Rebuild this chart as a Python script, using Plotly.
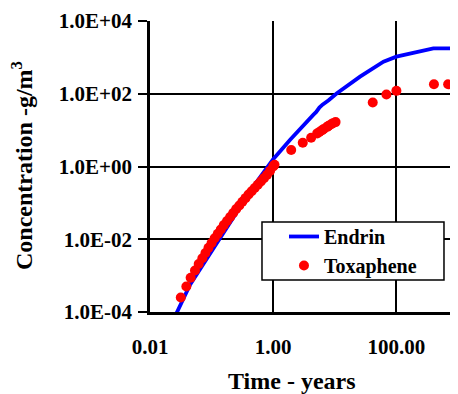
import plotly.graph_objects as go

# Endrin (line)
endrin_t = [0.02, 0.0447, 0.1, 0.251, 0.501, 1.0, 1.9, 4.47, 5.0, 5.62, 6.31, 7.94,
            10.7, 25.7, 61.7, 100, 398, 1000]
endrin_c = [3.2e-5, 5.6e-4, 4.7e-3, 0.050, 0.32, 1.58, 5.5, 26.3, 31.6, 41.7, 50.1, 66.1,
            102, 295, 759, 1047, 1778, 1778]

# Toxaphene (points)
toxa_t = [0.0316, 0.0389, 0.0457, 0.0537, 0.0617, 0.0708, 0.0794, 0.0891, 0.100, 0.112,
          0.126, 0.141, 0.158, 0.178, 0.200, 0.224, 0.251, 0.282, 0.316, 0.355,
          0.398, 0.447, 0.501, 0.562, 0.631, 0.708, 0.794, 0.891, 1.0, 1.05,
          1.96, 3.02, 4.13, 5.18, 5.62, 6.24, 6.61, 7.52, 7.94, 8.73, 9.33, 10.3,
          41.3, 68.9, 100, 407, 692, 977]
toxa_c = [2.5e-4, 5.0e-4, 8.7e-4, 1.38e-3, 2.09e-3, 3.0e-3, 4.2e-3, 5.8e-3, 7.9e-3, 0.0107,
          0.0141, 0.0186, 0.0245, 0.0316, 0.0407, 0.0525, 0.0676, 0.0851, 0.107, 0.135,
          0.170, 0.209, 0.257, 0.316, 0.389, 0.479, 0.589, 0.759, 1.0, 1.12,
          2.84, 4.51, 6.17, 8.13, 8.91, 10.0, 10.7, 12.3, 13.2, 14.5, 15.5, 16.6,
          57.5, 95.5, 120, 182, 182, 182]

x_tickvals = [0.01, 1, 100]
x_ticktext = ["0.01", "1.00", "100.00"]
y_tickvals = [1e-4, 1e-2, 1, 1e2, 1e4]
y_ticktext = ["1.0E-04", "1.0E-02", "1.0E+00", "1.0E+02", "1.0E+04"]

FONT = "Liberation Serif"

fig = go.Figure()
fig.add_trace(go.Scatter(x=endrin_t, y=endrin_c, mode="lines", name="Endrin",
                         line=dict(color="#0000FF", width=3.8)))
fig.add_trace(go.Scatter(x=toxa_t, y=toxa_c, mode="markers", name="Toxaphene",
                         marker=dict(color="#FF0000", size=10)))

# page body has an 8px margin: size the figure so the plot lands where the reference has it
fig.update_layout(
    width=450, height=386,
    margin=dict(l=142, r=0, t=13, b=82),
    plot_bgcolor="white", paper_bgcolor="white",
    font=dict(family=FONT, size=21, color="black", weight="bold"),
    showlegend=True,
    legend=dict(x=0.435, y=0.3265, xanchor="left", yanchor="top",
                bgcolor="rgba(0,0,0,0)", borderwidth=0,
                font=dict(family=FONT, size=20, color="black", weight="bold"),
                tracegroupgap=0, itemwidth=30),
    shapes=[dict(type="rect", xref="paper", yref="paper",
                 x0=0.3636, x1=0.9545, y0=0.110, y1=0.309,
                 line=dict(color="black", width=1.5), fillcolor="white", layer="above")],
    xaxis=dict(type="log", range=[-2, 3], tickvals=x_tickvals, ticktext=x_ticktext,
               showgrid=True, gridcolor="black", gridwidth=1.5,
               showline=True, linecolor="black", linewidth=2.5,
               ticks="", ticklabelstandoff=14, zeroline=False, automargin=False,
               tickfont=dict(family=FONT, size=21, weight="bold")),
    yaxis=dict(type="log", range=[-4, 4], tickvals=y_tickvals, ticktext=y_ticktext,
               showgrid=True, gridcolor="black", gridwidth=1.5,
               showline=True, linecolor="black", linewidth=2.5,
               ticks="outside", ticklen=9, tickwidth=2, tickcolor="black",
               ticklabelstandoff=2, zeroline=False, automargin=False,
               tickfont=dict(family=FONT, size=21, weight="bold")),
    annotations=[
        dict(text="Time - years", xref="paper", yref="paper", x=0.461, y=-0.237,
             showarrow=False, xanchor="center", yanchor="middle",
             font=dict(family=FONT, size=24, weight="bold")),
        dict(text="Concentration -g/m<sup>3</sup>", xref="paper", yref="paper",
             x=-0.4156, y=0.505, textangle=-90, showarrow=False,
             xanchor="center", yanchor="middle",
             font=dict(family=FONT, size=24, weight="bold")),
    ],
)

fig.write_html("out.html")
